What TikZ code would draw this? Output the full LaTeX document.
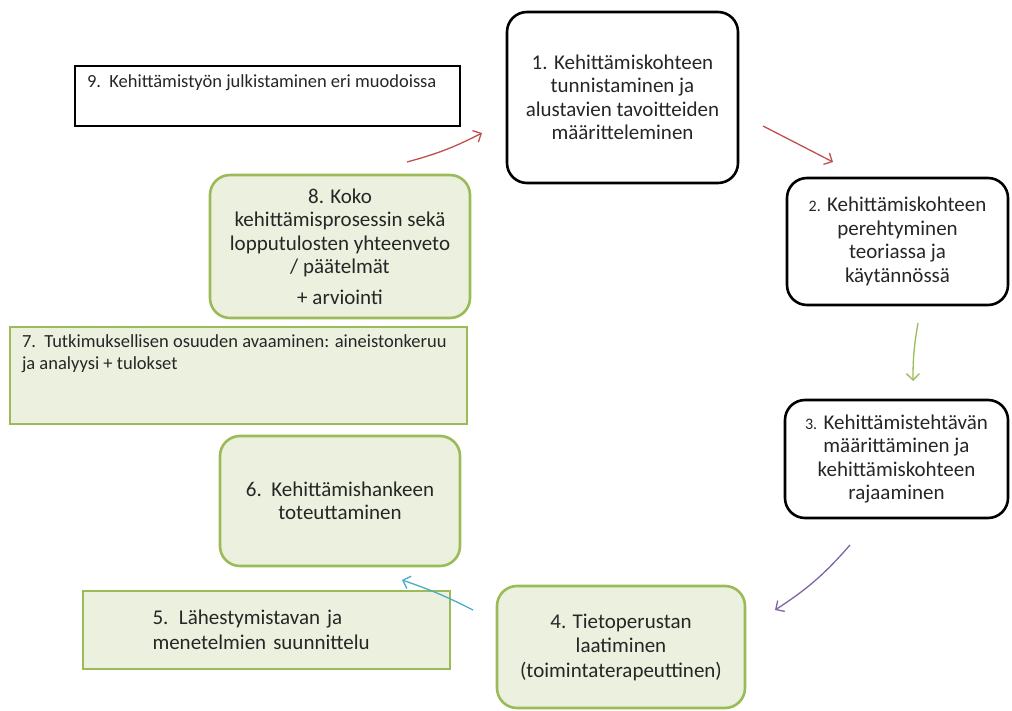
\documentclass[tikz,border=0pt]{standalone}
\usepackage{fontspec}
\setmainfont{Carlito}
\usetikzlibrary{arrows.meta}
\definecolor{boxfill}{HTML}{EBF1DE}
\definecolor{boxline}{HTML}{9BBB59}
\definecolor{arrred}{HTML}{C0504D}
\definecolor{arrgreen}{HTML}{9BBB59}
\definecolor{arrpurple}{HTML}{8064A2}
\definecolor{arrblue}{HTML}{4BACC6}
\newcommand{\smallnum}[1]{{\fontsize{16}{23.5}\selectfont #1}}
\tikzset{
  blackbox/.style={draw=black, line width=2.6pt, rounded corners=20pt, inner sep=0pt,
    align=center, text=black!85, font=\fontsize{21}{23.5}\selectfont},
  greenbox/.style={blackbox, draw=boxline, fill=boxfill},
  plainbox/.style={draw=black, line width=2.6pt, inner sep=0pt, text=black!85,
    font=\fontsize{18.5}{22}\selectfont},
  greenrect/.style={plainbox, draw=boxline, fill=boxfill},
  flow/.style={-{Straight Barb[length=6.5pt,width=13pt]}, line width=1.3pt}
}
\begin{document}
\begin{tikzpicture}[x=1pt,y=-1pt]
  \useasboundingbox (0,0) rectangle (1012,711);

  \node[blackbox, minimum width=231pt, minimum height=171pt] (b1) at (622.5,97.5)
    {1. Kehittämiskohteen\\tunnistaminen ja\\alustavien tavoitteiden\\määritteleminen};
  \node[blackbox, minimum width=221pt, minimum height=127pt] (b2) at (897.5,241.5)
    {\smallnum{2.} Kehittämiskohteen\\perehtyminen\\teoriassa ja\\käytännössä};
  \node[blackbox, minimum width=223pt, minimum height=118pt] (b3) at (896.5,459)
    {\smallnum{3.} Kehittämistehtävän\\määrittäminen ja\\kehittämiskohteen\\rajaaminen};
  \node[greenbox, font=\fontsize{21}{24.5}\selectfont,
    minimum width=248pt, minimum height=122pt] (b4) at (621,647)
    {4. Tietoperustan\\laatiminen\\(toimintaterapeuttinen)};
  \node[greenrect, align=left, text width=228pt, font=\fontsize{21}{25}\selectfont,
    minimum width=367pt, minimum height=78pt] (b5) at (266.5,630)
    {5. Lähestymistavan ja\\menetelmien suunnittelu};
  \node[greenbox, minimum width=240pt, minimum height=130pt] (b6) at (340,501)
    {6.\ \ Kehittämishankeen\\toteuttaminen};
  \node[greenrect, inner xsep=12pt, inner ysep=8pt] (b7) at (238.5,375.5)
    {\parbox[c][81pt][t]{433pt}{7.\ \ Tutkimuksellisen osuuden avaaminen: aineistonkeruu\\ja analyysi + tulokset}};
  \node[greenbox, minimum width=260pt, minimum height=143pt] (b8) at (340,246.5)
    {8. Koko\\kehittämisprosessin sekä\\lopputulosten yhteenveto\\/ päätelmät\\[7pt]+ arviointi};
  \node[plainbox, inner xsep=12pt, inner ysep=9pt] (b9) at (267.5,96)
    {\parbox[c][42pt][t]{361pt}{9.\ \ Kehittämistyön julkistaminen eri muodoissa}};

  \coordinate (a81) at (407,162); \coordinate (a18) at (482,133);
  \coordinate (a12) at (763,126); \coordinate (a21) at (833,162);
  \coordinate (a23) at (918,323); \coordinate (a32) at (913,381);
  \coordinate (a34) at (850,545); \coordinate (a43) at (775,610);
  \coordinate (a46) at (473,610); \coordinate (a64) at (402,580);

  \foreach \s/\e/\c/\b in {a81/a18/arrred/-6, a12/a21/arrred/0, a23/a32/arrgreen/-5,
      a34/a43/arrpurple/8, a46/a64/arrblue/-4} {
    \draw[flow, \c] (\s) to[bend left=\b] (\e);
  }
\end{tikzpicture}
\end{document}
